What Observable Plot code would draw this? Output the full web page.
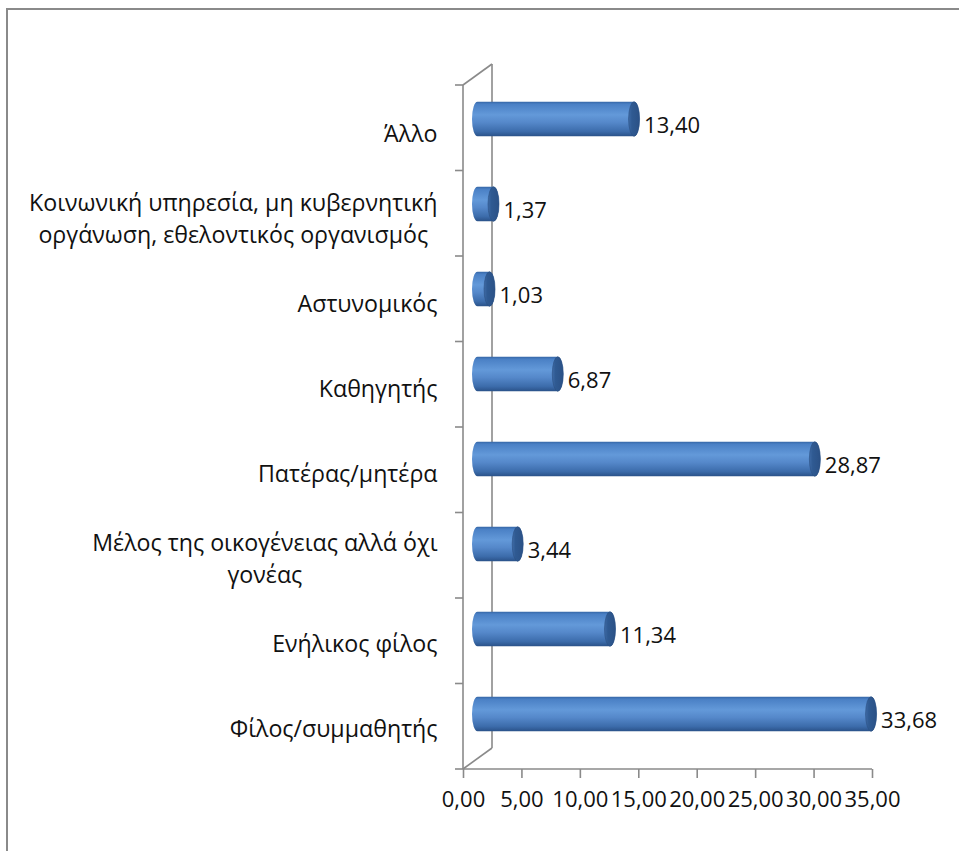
<!DOCTYPE html>
<html><head><meta charset="utf-8">
<script src="https://cdn.jsdelivr.net/npm/d3@7"></script>
<script src="https://cdn.jsdelivr.net/npm/@observablehq/plot@0.6"></script>
<style>
body{margin:0;background:#fff;overflow:hidden;}
#frame{position:absolute;left:6px;top:8px;width:1200px;height:1200px;border-top:2px solid #8a8a8a;border-left:2px solid #8a8a8a;}
#chart{position:absolute;left:0;top:0;}
</style></head><body>
<div id="frame"></div>
<div id="chart"></div>
<script>
const categories = [
  "Άλλο",
  "Κοινωνική υπηρεσία, μη κυβερνητική\nοργάνωση, εθελοντικός οργανισμός",
  "Αστυνομικός",
  "Καθηγητής",
  "Πατέρας/μητέρα",
  "Μέλος της οικογένειας αλλά όχι\nγονέας",
  "Ενήλικος φίλος",
  "Φίλος/συμμαθητής"
];
const values = [13.40, 1.37, 1.03, 6.87, 28.87, 3.44, 11.34, 33.68];
const xTicks = [0, 5, 10, 15, 20, 25, 30, 35];

const rows = categories.map((c, i) => ({cat: c, value: values[i]}));
const fmt = v => v.toFixed(2).replace(".", ",");

const FONT = "'Open Sans', 'Noto Sans', sans-serif";
const FS = 22;
const CAT_FS = 23.2;
const AXIS = "#8a8a8a";
const DX = 29, DY = -21;          // 3D depth offset of the back wall
const BDX = DX / 2, BDY = DY / 2; // bars sit mid-depth
const BAR_H = 35, CAP_RX = 5.5;

// measure label widths to centre multi-line labels as a block
const ctx = document.createElement("canvas").getContext("2d");
ctx.font = `${CAT_FS}px ${FONT}`;
const blockWidth = s => Math.max(...s.split("\n").map(l => ctx.measureText(l).width));

function wall(...args) {
  let scales, dims;
  if (args[0] && typeof args[0].x === "function") { scales = args[0]; dims = args[1]; }
  else { scales = args[1]; dims = args[3]; }
  const x0 = scales.x(0), x1 = scales.x(d3.max(xTicks));
  const top = dims.marginTop, bottom = dims.height - dims.marginBottom;
  const n = categories.length;
  const g = d3.create("svg:g").attr("stroke", AXIS).attr("stroke-width", 1.6).attr("fill", "none");
  const seg = (a, b, c, d) => g.append("line").attr("x1", a).attr("y1", b).attr("x2", c).attr("y2", d);
  seg(x0 + DX, top + DY, x0 + DX, bottom + DY);
  seg(x0, top, x0 + DX, top + DY);
  seg(x0, bottom, x0 + DX, bottom + DY);
  seg(x0, top, x0, bottom);
  seg(x0, bottom, x1, bottom);
  for (let i = 0; i <= n; i++) {
    const y = top + i * (bottom - top) / n;
    seg(x0 - 8, y, x0, y);
  }
  return g.node();
}

const inset = (85.5 - BAR_H) / 2;
const marks = [
  wall,
  Plot.barX(rows, {
    x1: d => 0, x2: "value", y: "cat", dx: BDX, dy: BDY,
    insetTop: inset, insetBottom: inset, insetLeft: -CAP_RX, insetRight: -CAP_RX,
    rx: CAP_RX, ry: BAR_H / 2, fill: "url(#cyl)"
  }),
  Plot.barX(rows, {
    x1: "value", x2: "value", y: "cat", dx: BDX, dy: BDY,
    insetTop: inset, insetBottom: inset, insetLeft: -CAP_RX, insetRight: -CAP_RX,
    rx: CAP_RX, ry: BAR_H / 2, fill: "url(#cap)", stroke: "#2a4f82", strokeWidth: 0.6
  }),
  Plot.text(rows, {
    x: "value", y: "cat", text: d => fmt(d.value), textAnchor: "start",
    dx: BDX + CAP_RX + 4, dy: -4, fontSize: FS, fill: "#111"
  }),
  Plot.axisX(xTicks, {
    tickSize: 9, tickPadding: 13, tickFormat: fmt, fontSize: FS,
    stroke: AXIS, strokeWidth: 1.6, fill: "#111", label: null
  })
];
categories.forEach(c => {
  marks.push(Plot.text([c], {
    y: d => d, text: d => d, frameAnchor: "left", textAnchor: "middle",
    dx: -(26 + blockWidth(c) / 2), dy: 2, lineHeight: 1.38, fontSize: CAT_FS, fill: "#111"
  }));
});

const chart = Plot.plot({
  width: 959, height: 851,
  marginLeft: 463, marginRight: 87, marginTop: 85, marginBottom: 82,
  style: {fontFamily: FONT, fontSize: FS + "px", background: "transparent", overflow: "visible"},
  x: {domain: [0, 35], axis: null},
  y: {domain: categories, axis: null, padding: 0},
  marks
});

const svg = d3.select(chart.tagName.toLowerCase() === "svg" ? chart : chart.querySelector("svg"));
const defs = svg.insert("defs", ":first-child");
const g1 = defs.append("linearGradient").attr("id", "cyl").attr("x1", 0).attr("y1", 0).attr("x2", 0).attr("y2", 1);
[[0, "#3566a6"], [0.07, "#4a80c5"], [0.38, "#6399d9"], [0.6, "#5588ca"], [0.86, "#3c6cab"], [1, "#2a5289"]]
  .forEach(([o, c]) => g1.append("stop").attr("offset", o).attr("stop-color", c));
const g2 = defs.append("linearGradient").attr("id", "cap").attr("x1", 0).attr("y1", 0).attr("x2", 1).attr("y2", 0);
[[0, "#3f6ba6"], [0.3, "#2f5a92"], [1, "#2b5186"]]
  .forEach(([o, c]) => g2.append("stop").attr("offset", o).attr("stop-color", c));

document.getElementById("chart").appendChild(chart);
</script>
</body></html>
